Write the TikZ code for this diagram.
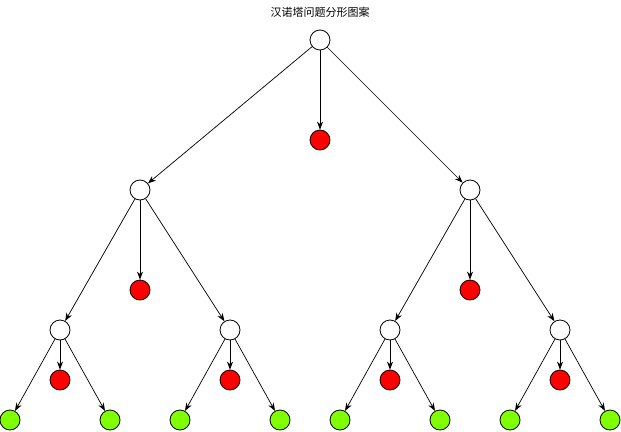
\documentclass[tikz,border=0pt]{standalone}
\usepackage{fontspec}
\newfontfamily\cjk{Noto Sans CJK SC}
\usetikzlibrary{arrows.meta,positioning}
\definecolor{leafgreen}{HTML}{80FF00}
\tikzstyle{disk} = [draw, circle, fill=white, minimum size=20pt, inner sep=0pt, line width=0.8pt]
\tikzstyle{move} = [disk, fill=red]
\tikzstyle{leaf} = [disk, fill=leafgreen]

\begin{document}
\begin{tikzpicture}[x=1pt, y=-1pt, >={Stealth[length=8pt,width=6pt,inset=2.5pt]}, line width=0.7pt]
    \useasboundingbox (0,0) rectangle (621,431);
    % Title
    \node (title) at (320,12) {\cjk\fontsize{11}{13}\selectfont 汉诺塔问题分形图案};
    % Level 1
    \node [disk] (root) at (320,40) {};
    \node [move] (mroot) at (320,140) {};
    % Level 2
    \node [disk] (a) at (140,190) {};
    \node [disk] (b) at (470,190) {};
    \node [move] (ma) at (140,290) {};
    \node [move] (mb) at (470,290) {};
    % Level 3
    \node [disk] (aa) at (60,330) {};
    \node [disk] (ab) at (230,330) {};
    \node [disk] (ba) at (390,330) {};
    \node [disk] (bb) at (560,330) {};
    \node [move] (maa) at (60,380) {};
    \node [move] (mab) at (230,380) {};
    \node [move] (mba) at (390,380) {};
    \node [move] (mbb) at (560,380) {};
    % Leaves
    \node [leaf] (aa1) at (10,420) {};
    \node [leaf] (aa2) at (110,420) {};
    \node [leaf] (ab1) at (180,420) {};
    \node [leaf] (ab2) at (280,420) {};
    \node [leaf] (ba1) at (340,420) {};
    \node [leaf] (ba2) at (440,420) {};
    \node [leaf] (bb1) at (510,420) {};
    \node [leaf] (bb2) at (610,420) {};

    % Connections
    \draw [->] (root) -- (mroot);
    \draw [->] (root) -- (a);
    \draw [->] (root) -- (b);
    \draw [->] (a) -- (ma);
    \draw [->] (a) -- (aa);
    \draw [->] (a) -- (ab);
    \draw [->] (b) -- (mb);
    \draw [->] (b) -- (ba);
    \draw [->] (b) -- (bb);
    \draw [->] (aa) -- (maa);
    \draw [->] (aa) -- (aa1);
    \draw [->] (aa) -- (aa2);
    \draw [->] (ab) -- (mab);
    \draw [->] (ab) -- (ab1);
    \draw [->] (ab) -- (ab2);
    \draw [->] (ba) -- (mba);
    \draw [->] (ba) -- (ba1);
    \draw [->] (ba) -- (ba2);
    \draw [->] (bb) -- (mbb);
    \draw [->] (bb) -- (bb1);
    \draw [->] (bb) -- (bb2);
\end{tikzpicture}
\end{document}
